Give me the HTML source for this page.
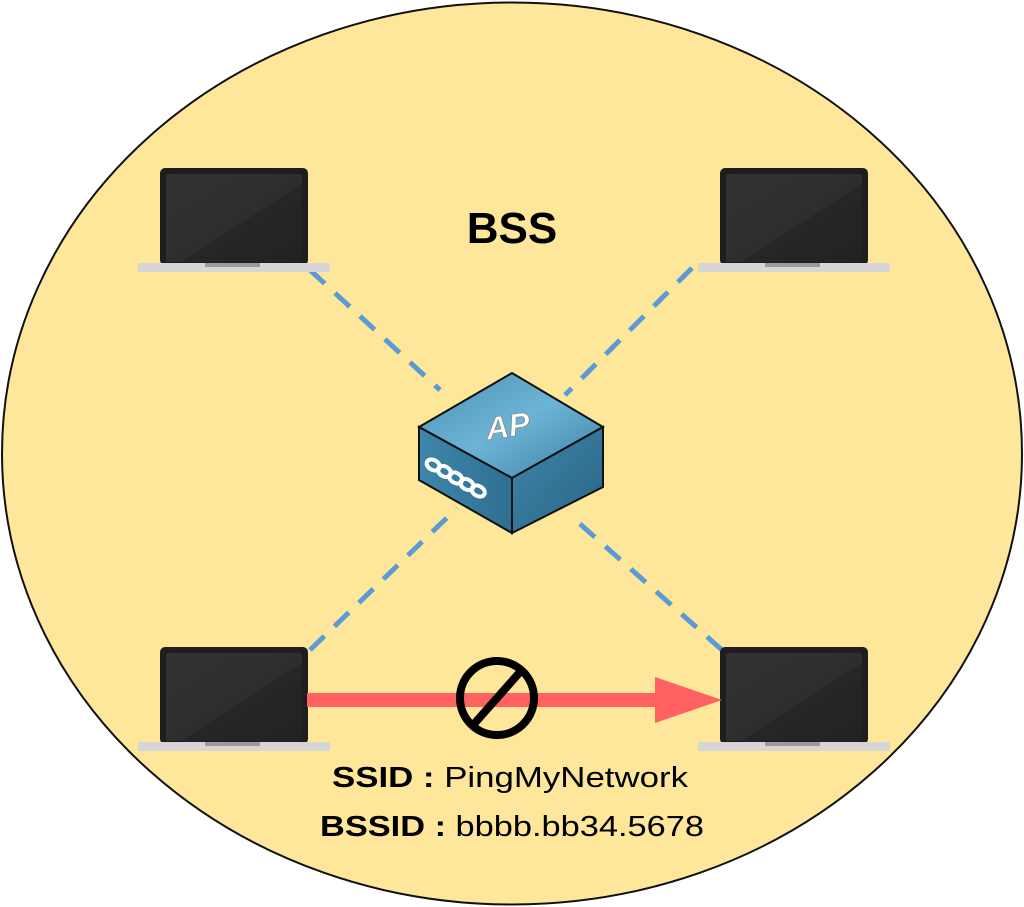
<!DOCTYPE html>
<html><head><style>body{margin:0;background:#fff}svg{display:block}</style></head><body>
<svg width="1024" height="907" xmlns="http://www.w3.org/2000/svg">
<defs>
<linearGradient id="scr" x1="0" y1="0" x2="1" y2="1"><stop offset="0" stop-color="#333"/><stop offset="0.55" stop-color="#2e2e2e"/><stop offset="0.56" stop-color="#262626"/><stop offset="1" stop-color="#222"/></linearGradient>
<linearGradient id="top" x1="0" y1="0" x2="1" y2="1"><stop offset="0" stop-color="#4a8fb0"/><stop offset="0.5" stop-color="#6cb4d6"/><stop offset="1" stop-color="#3c7fa2"/></linearGradient>
<linearGradient id="lf" x1="0" y1="0" x2="1" y2="0"><stop offset="0" stop-color="#3e86aa"/><stop offset="1" stop-color="#2f6f92"/></linearGradient>
<linearGradient id="rf" x1="0" y1="0" x2="1" y2="1"><stop offset="0" stop-color="#3f86aa"/><stop offset="1" stop-color="#2a6585"/></linearGradient>
<g id="lap">
<rect x="0" y="0" width="148" height="97" rx="5" fill="#1e1e1e"/>
<rect x="6" y="6" width="136" height="88" rx="3" fill="url(#scr)"/>
<rect x="-22" y="95" width="192" height="9" rx="2" fill="#d6d6d6"/>
<rect x="45" y="95" width="55" height="4" fill="#9a9a9a"/>
</g>
</defs>
<ellipse cx="512" cy="453.5" rx="510" ry="451" fill="#fee69b" stroke="#111" stroke-width="2"/>
<g stroke="#5b9bd5" stroke-width="5" stroke-dasharray="20,14" fill="none">
<line x1="310" y1="270" x2="440" y2="390"/>
<line x1="692" y1="268" x2="565" y2="395"/>
<line x1="310" y1="650" x2="457" y2="508"/>
<line x1="722" y1="650" x2="570" y2="515"/>
</g>
<use href="#lap" x="160" y="168"/>
<use href="#lap" x="720" y="168"/>
<use href="#lap" x="160" y="647"/>
<use href="#lap" x="720" y="647"/>
<polygon points="512,373 603,427 512,478 419,427" fill="url(#top)" stroke="#111" stroke-width="2"/>
<polygon points="419,427 512,478 512,533 419,480" fill="url(#lf)" stroke="#111" stroke-width="2"/>
<polygon points="512,478 603,427 603,487 512,533" fill="url(#rf)" stroke="#111" stroke-width="2"/>
<text x="508" y="437" font-family="Liberation Sans,sans-serif" font-size="32" font-style="italic" font-weight="bold" fill="#fff" stroke="#888" stroke-width="0.8" text-anchor="middle" transform="rotate(-8 508 428)">AP</text>
<g fill="none" stroke="#fff" stroke-width="4" transform="translate(428,462) rotate(30)">
<ellipse cx="6" cy="0" rx="7" ry="5"/><ellipse cx="19" cy="0" rx="7" ry="5"/><ellipse cx="32" cy="0" rx="7" ry="5"/><ellipse cx="45" cy="0" rx="7" ry="5"/><ellipse cx="58" cy="0" rx="7" ry="5"/>
</g>
<rect x="307" y="693" width="352" height="14" fill="#ff6161"/>
<polygon points="655,677 722,700 655,723" fill="#ff6161"/>
<circle cx="497" cy="698" r="37" fill="none" stroke="#000" stroke-width="8"/>
<line x1="520" y1="672" x2="474" y2="724" stroke="#000" stroke-width="8"/>
<text x="512" y="243" font-family="Liberation Sans,sans-serif" font-size="44" font-weight="bold" text-anchor="middle">BSS</text>
<text x="510" y="787" font-family="Liberation Sans,sans-serif" font-size="29" text-anchor="middle" textLength="356" lengthAdjust="spacingAndGlyphs"><tspan font-weight="bold">SSID :</tspan> PingMyNetwork</text>
<text x="512" y="836" font-family="Liberation Sans,sans-serif" font-size="29" text-anchor="middle" textLength="384" lengthAdjust="spacingAndGlyphs"><tspan font-weight="bold">BSSID :</tspan> bbbb.bb34.5678</text>
</svg>
</body></html>
